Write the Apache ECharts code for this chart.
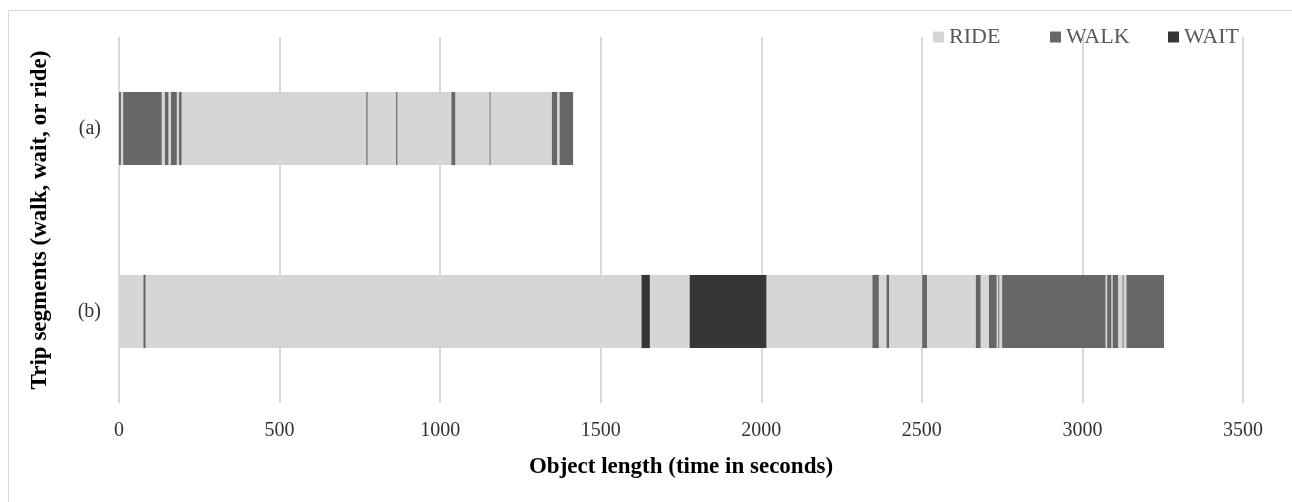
<!DOCTYPE html>
<html>
<head>
  <meta charset="UTF-8">
  <style>
    html, body { margin: 0; padding: 0; background: #fff; }
  </style>
  <script src="https://cdn.jsdelivr.net/npm/echarts@6/dist/echarts.min.js"></script>
</head>
<body>
  <div id="chart" style="width: 1292px; height: 502px;"></div>
  <script>
    // trips, bottom to top on the y axis
    const categories = ['(b)', '(a)']
    const kinds = ['RIDE', 'WALK', 'WAIT']
    const xTicks = [0, 500, 1000, 1500, 2000, 2500, 3000, 3500]

    // segments of each trip: [kind, duration in seconds], in order
    const tripA = [
      ['WALK', 6], ['RIDE', 7], ['WALK', 120], ['RIDE', 10], ['WALK', 11],
      ['RIDE', 8], ['WALK', 18], ['RIDE', 7], ['WALK', 8], ['RIDE', 575],
      ['WALK', 4], ['RIDE', 89], ['WALK', 4], ['RIDE', 168], ['WALK', 12],
      ['RIDE', 107], ['WALK', 3], ['RIDE', 191], ['WALK', 16], ['RIDE', 8],
      ['WALK', 42]
    ]
    const tripB = [
      ['RIDE', 76], ['WALK', 7], ['RIDE', 1544], ['WAIT', 26], ['RIDE', 124],
      ['WAIT', 239], ['RIDE', 330], ['WALK', 20], ['RIDE', 24], ['WALK', 8],
      ['RIDE', 103], ['WALK', 15], ['RIDE', 152], ['WALK', 15], ['RIDE', 26],
      ['WALK', 24], ['RIDE', 5], ['WALK', 3], ['RIDE', 9], ['WALK', 322],
      ['RIDE', 5], ['WALK', 13], ['RIDE', 4], ['WALK', 17], ['RIDE', 14],
      ['WALK', 3], ['RIDE', 9], ['WALK', 117]
    ]

    const colors = { RIDE: '#d6d6d6', WALK: '#676767', WAIT: '#363636' }

    // turn durations into [start, end, categoryIndex] per kind
    function segmentsFor (kind) {
      const out = []
      ;[tripB, tripA].forEach((trip, ci) => {
        let t = 0
        trip.forEach(([k, d]) => {
          if (k === kind) out.push([t, t + d, ci])
          t += d
        })
      })
      return out
    }

    function renderSeg (params, api) {
      const ci = api.value(2)
      const p0 = api.coord([api.value(0), ci])
      const p1 = api.coord([api.value(1), ci])
      const h = api.size([0, 1])[1] * 0.4
      return {
        type: 'rect',
        shape: { x: p0[0], y: p0[1] - h / 2, width: Math.max(p1[0] - p0[0], 1), height: h },
        style: { fill: api.visual('color') }
      }
    }

    const myChart = echarts.init(document.getElementById('chart'))

    const serif = '"Liberation Serif", "DejaVu Serif", serif'

    // excel spaces the legend entries evenly, so one legend per entry
    const legendLeft = [928, 1045, 1163]

    const options = {
      animation: false,
      textStyle: { fontFamily: serif },
      graphic: [{
        type: 'rect',
        shape: { x: 8.5, y: 10.5, width: 1300, height: 520 },
        style: { fill: 'none', stroke: '#d9d9d9', lineWidth: 1 },
        silent: true
      }],
      legend: kinds.map((k, i) => ({
        data: [k],
        left: legendLeft[i],
        top: 21,
        itemWidth: 11,
        itemHeight: 11,
        icon: 'rect',
        textStyle: { fontFamily: serif, fontSize: 22, color: '#595959' }
      })),
      grid: { left: 119, right: 49, top: 37, bottom: 99, containLabel: false },
      xAxis: {
        type: 'value',
        min: 0,
        max: 3500,
        interval: 500,
        name: 'Object length (time in seconds)',
        nameLocation: 'middle',
        nameGap: 53,
        nameTextStyle: { fontFamily: serif, fontSize: 23, fontWeight: 'bold', color: '#000' },
        axisLine: { show: false },
        axisTick: { show: false },
        axisLabel: {
          fontFamily: serif, fontSize: 20, color: '#333', margin: 18,
          formatter: v => xTicks.includes(v) ? String(v) : ''
        },
        splitLine: { show: true, lineStyle: { color: '#d9d9d9', width: 2 } }
      },
      yAxis: {
        type: 'category',
        data: categories,
        name: 'Trip segments (walk, wait, or ride)',
        nameLocation: 'middle',
        nameGap: 67,
        nameRotate: 90,
        nameTextStyle: { fontFamily: serif, fontSize: 23, fontWeight: 'bold', color: '#000' },
        axisLine: { show: false },
        axisTick: { show: false },
        axisLabel: { fontFamily: serif, fontSize: 20, color: '#333', margin: 18 }
      },
      series: kinds.map(k => ({
        name: k,
        type: 'custom',
        renderItem: renderSeg,
        itemStyle: { color: colors[k] },
        encode: { x: [0, 1], y: 2 },
        data: segmentsFor(k)
      }))
    }

    myChart.setOption(options)
  </script>
</body>
</html>
